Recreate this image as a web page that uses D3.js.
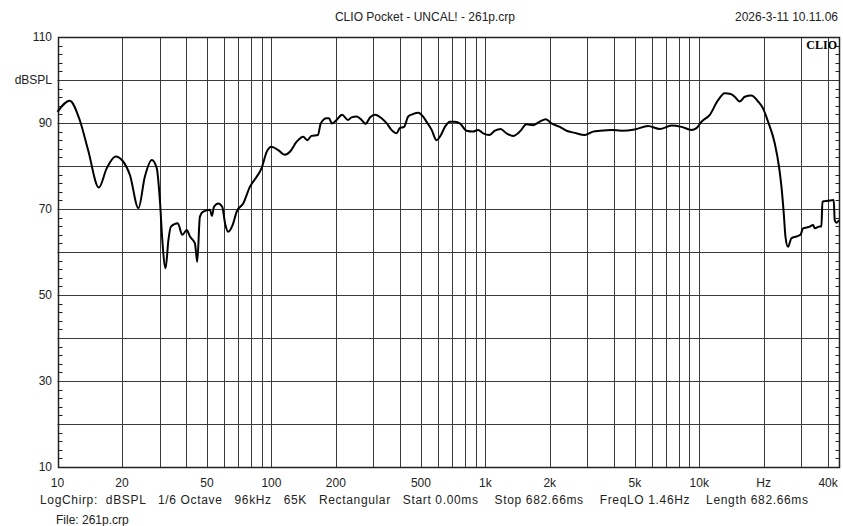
<!DOCTYPE html>
<html>
<head>
<meta charset="utf-8">
<script src="https://cdn.jsdelivr.net/npm/d3@7"></script>
<style>
  body { margin: 0; background: #fff; }
  svg { display: block; font-family: "Liberation Sans", Arial, sans-serif; }
  text { fill: #222; }
</style>
</head>
<body>
<script>
// frequency response
const freqs = [10, 11.4, 12.7, 13.9, 15.6, 17.0, 18.7, 20.3, 21.8, 23.9, 25.6, 27.6, 29.1, 30.1, 30.9, 32.0, 33.0, 33.9,
  36.5, 38.3, 40.2, 41.6, 43.9, 45.0, 46.3, 48.0, 51.6, 52.7, 53.9, 56.4, 58.9, 60.7, 62.8, 65.9, 68.8, 73.8, 79.4,
  85.3, 90, 95, 100, 107.6, 115.6, 122, 131, 140.8, 147, 154, 165, 170, 181, 185.7, 192, 201.7, 214, 228, 237, 250,
  264, 275, 289, 305, 327, 346, 364, 385, 398, 417, 436, 460, 485, 512, 531, 561, 591, 620, 647, 683, 720, 760,
  817, 877, 925, 977, 1042, 1108, 1178, 1256, 1349, 1450, 1557, 1672, 1798, 1918, 2038, 2229, 2396, 2620, 2917,
  3190, 3427, 3889, 4330, 4995, 5762, 6539, 7413, 8260, 9196, 9705, 10240, 11200, 12240, 13150, 14130, 14650,
  15460, 16320, 17540, 18830, 19860, 20970, 22530, 23600, 24220, 24830, 25290, 26000, 26970, 28450, 29720,
  30550, 32840, 34040, 34670, 36300, 37240, 37650, 40000, 42520, 42970, 43770, 45000];
const spl = [92.6, 95.2, 90.7, 83.7, 75.0, 79.5, 82.2, 81.0, 77.9, 70.2, 77.5, 81.4, 79.5, 72.1, 62.8, 56.2, 62.8, 65.9,
  66.7, 64.0, 65.1, 63.6, 62.0, 57.7, 68.2, 69.4, 69.8, 68.4, 70.5, 71.3, 70.5, 66.7, 64.7, 66.3, 69.4, 71.3, 75.2,
  77.5, 79.5, 83.3, 84.5, 83.7, 82.6, 83.3, 85.6, 86.8, 86.0, 87.0, 87.2, 89.9, 91.1, 91.1, 89.9, 90.7, 91.9, 90.7, 91.3, 91.5,
  90.7, 89.8, 91.3, 91.9, 91.1, 89.9, 88.4, 87.6, 88.8, 89.1, 91.5, 92.1, 92.4, 91.5, 90.3, 88.4, 86.0, 87.2, 89.1, 90.3, 90.3, 89.9,
  88.2, 88.0, 88.4, 87.6, 87.2, 88.2, 88.6, 87.6, 87.0, 88.0, 89.7, 89.5, 90.3, 90.9, 89.9, 89.1, 88.2, 87.7, 87.2,
  88.0, 88.2, 88.4, 88.2, 88.5, 89.3, 88.6, 89.4, 89.1, 88.4, 88.8, 90.3, 91.9, 95.3, 96.9, 96.7, 96.1,
  95.0, 96.1, 96.4, 95.0, 93.4, 90.3, 85.3, 79.8, 75.2, 69.0, 63.6, 61.2, 63.2, 63.6, 64.0,
  65.5, 65.9, 66.3, 65.5, 65.9, 66.0, 71.7, 71.9, 72.1, 67.4, 66.8, 67.4];

const gridFreqs = [10, 20, 30, 40, 50, 60, 70, 80, 90, 100, 200, 300, 400, 500, 600, 700, 800, 900,
  1000, 2000, 3000, 4000, 5000, 6000, 7000, 8000, 9000, 10000, 20000, 30000, 40000];
const xTickVals = [10, 20, 50, 100, 200, 500, 1000, 2000, 5000, 10000, 20000, 40000];
const xTickLabels = ["10", "20", "50", "100", "200", "500", "1k", "2k", "5k", "10k", "Hz", "40k"];
const yGrid = [20, 30, 40, 50, 60, 70, 80, 90, 100];
const yTickVals = [110, 100, 90, 70, 50, 30, 10];
const yTickLabels = ["110", "dBSPL", "90", "70", "50", "30", "10"];

const title = "CLIO Pocket - UNCAL! - 261p.crp";
const dateText = "2026-3-11 10.11.06";
const infoLine = "LogChirp:  dBSPL   1/6 Octave   96kHz   65K   Rectangular   Start 0.00ms    Stop 682.66ms    FreqLO 1.46Hz    Length 682.66ms";
const fileLine = "File: 261p.crp";

const W = 843, H = 526;
const L = 57.5, R = 839, T = 37, B = 467;

var svg = d3.select("body").append("svg")
  .attr("width", W)
  .attr("height", H);

var x = d3.scaleLog().domain([10, 45000]).range([L, R]);
var y = d3.scaleLinear().domain([10, 110]).range([B, T]);

var px = v => Math.round(v) + 0.5;

// grid
svg.append("g").selectAll("line")
  .data(gridFreqs)
  .enter().append("line")
    .attr("x1", d => px(x(d))).attr("x2", d => px(x(d)))
    .attr("y1", T).attr("y2", B)
    .attr("stroke", "#3a3a3a").attr("stroke-width", 1);

svg.append("g").selectAll("line")
  .data(yGrid)
  .enter().append("line")
    .attr("x1", L).attr("x2", R)
    .attr("y1", d => px(y(d))).attr("y2", d => px(y(d)))
    .attr("stroke", "#3a3a3a").attr("stroke-width", 1);

// minor ticks every 2 dB on both sides
var minor = d3.range(12, 110, 2).filter(d => d % 10 != 0);
var tk = svg.append("g").attr("stroke", "#222");
tk.selectAll(".tl").data(minor).enter().append("line")
  .attr("x1", px(L)).attr("x2", px(L) + 4)
  .attr("y1", d => px(y(d))).attr("y2", d => px(y(d)));
tk.selectAll(".tr").data(minor).enter().append("line")
  .attr("x1", px(R) - 4).attr("x2", px(R))
  .attr("y1", d => px(y(d))).attr("y2", d => px(y(d)));

// frame
svg.append("rect")
  .attr("x", px(L)).attr("y", px(T))
  .attr("width", Math.round(R) - Math.round(L)).attr("height", B - T)
  .attr("fill", "none").attr("stroke", "#222").attr("stroke-width", 1.5);

// curve
var line = d3.line()
  .x((d, i) => x(freqs[i]))
  .y(d => y(d))
  .curve(d3.curveMonotoneX);

svg.append("path")
  .datum(spl)
  .attr("d", line)
  .attr("fill", "none")
  .attr("stroke", "#000")
  .attr("stroke-width", 2)
  .attr("stroke-linejoin", "round");

// labels
svg.append("g").selectAll("text")
  .data(yTickVals)
  .enter().append("text")
    .attr("x", 52).attr("y", d => y(d) + 4)
    .attr("text-anchor", "end")
    .style("font-size", "12px")
    .text((d, i) => yTickLabels[i]);

svg.append("g").selectAll("text")
  .data(xTickVals)
  .enter().append("text")
    .attr("x", d => x(d)).attr("y", 487)
    .attr("text-anchor", "middle")
    .style("font-size", "12px")
    .text((d, i) => xTickLabels[i]);

svg.append("text")
  .attr("x", 425).attr("y", 21)
  .attr("text-anchor", "middle")
  .style("font-size", "12px")
  .text(title);

svg.append("text")
  .attr("x", 838).attr("y", 21)
  .attr("text-anchor", "end")
  .style("font-size", "12px")
  .text(dateText);

svg.append("text")
  .attr("x", 40).attr("y", 504)
  .style("font-size", "12px")
  .style("white-space", "pre")
  .attr("textLength", 768)
  .attr("lengthAdjust", "spacing")
  .text(infoLine);

svg.append("text")
  .attr("x", 56).attr("y", 524)
  .style("font-size", "12px")
  .text(fileLine);

svg.append("text")
  .attr("x", 837).attr("y", 49)
  .attr("text-anchor", "end")
  .style("font-family", "'Liberation Serif', serif")
  .style("font-weight", "bold")
  .style("font-size", "12px")
  .style("fill", "#000")
  .text("CLIO");
</script>
</body>
</html>
